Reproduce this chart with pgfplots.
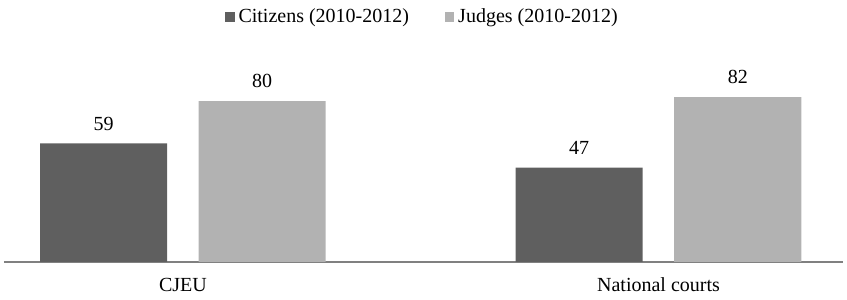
\documentclass[border=0pt]{standalone}
\usepackage{pgfplots}
\pgfplotsset{compat=1.18}
\usepackage{fontspec}
\setmainfont{Liberation Serif}
\definecolor{darkbar}{HTML}{5F5F5F}
\definecolor{lightbar}{HTML}{B2B2B2}
\definecolor{axisgray}{HTML}{808080}
\begin{document}
\begin{tikzpicture}
\useasboundingbox (-2pt,-19pt) rectangle (421.5pt,131pt);
\begin{axis}[
  at={(0,0)}, anchor=south west,
  scale only axis,
  width=419.5pt, height=100.5pt,
  font=\fontsize{10}{12}\selectfont,
  /pgf/number format/assume math mode=true,
  ybar=15.75pt, bar width=63.5pt,
  xmin=-0.3764, xmax=1.388,
  ymin=0, ymax=100,
  axis x line*=bottom,
  axis y line=none,
  x axis line style={axisgray, line width=0.6pt, -},
  xtick=data,
  xticklabels={CJEU, National courts},
  major tick length=0pt,
  xticklabel style={yshift=-4.5pt},
  nodes near coords,
  every node near coord/.append style={font=\fontsize{10}{12}\selectfont, yshift=3pt},
  legend style={at={(0.5,1)}, anchor=center, yshift=22pt, draw=none,
    font=\fontsize{10}{12}\selectfont, legend columns=2,
    /tikz/every even column/.append style={column sep=16pt}},
  legend image code/.code={\fill[#1] (0pt,-2.3pt) rectangle (4.6pt,2.3pt);},
]
\addplot[fill=darkbar, draw=none] coordinates {(0,59) (1,47)};
\addplot[fill=lightbar, draw=none] coordinates {(0,80) (1,82)};
\legend{Citizens (2010-2012), Judges (2010-2012)}
\end{axis}
\end{tikzpicture}
\end{document}
